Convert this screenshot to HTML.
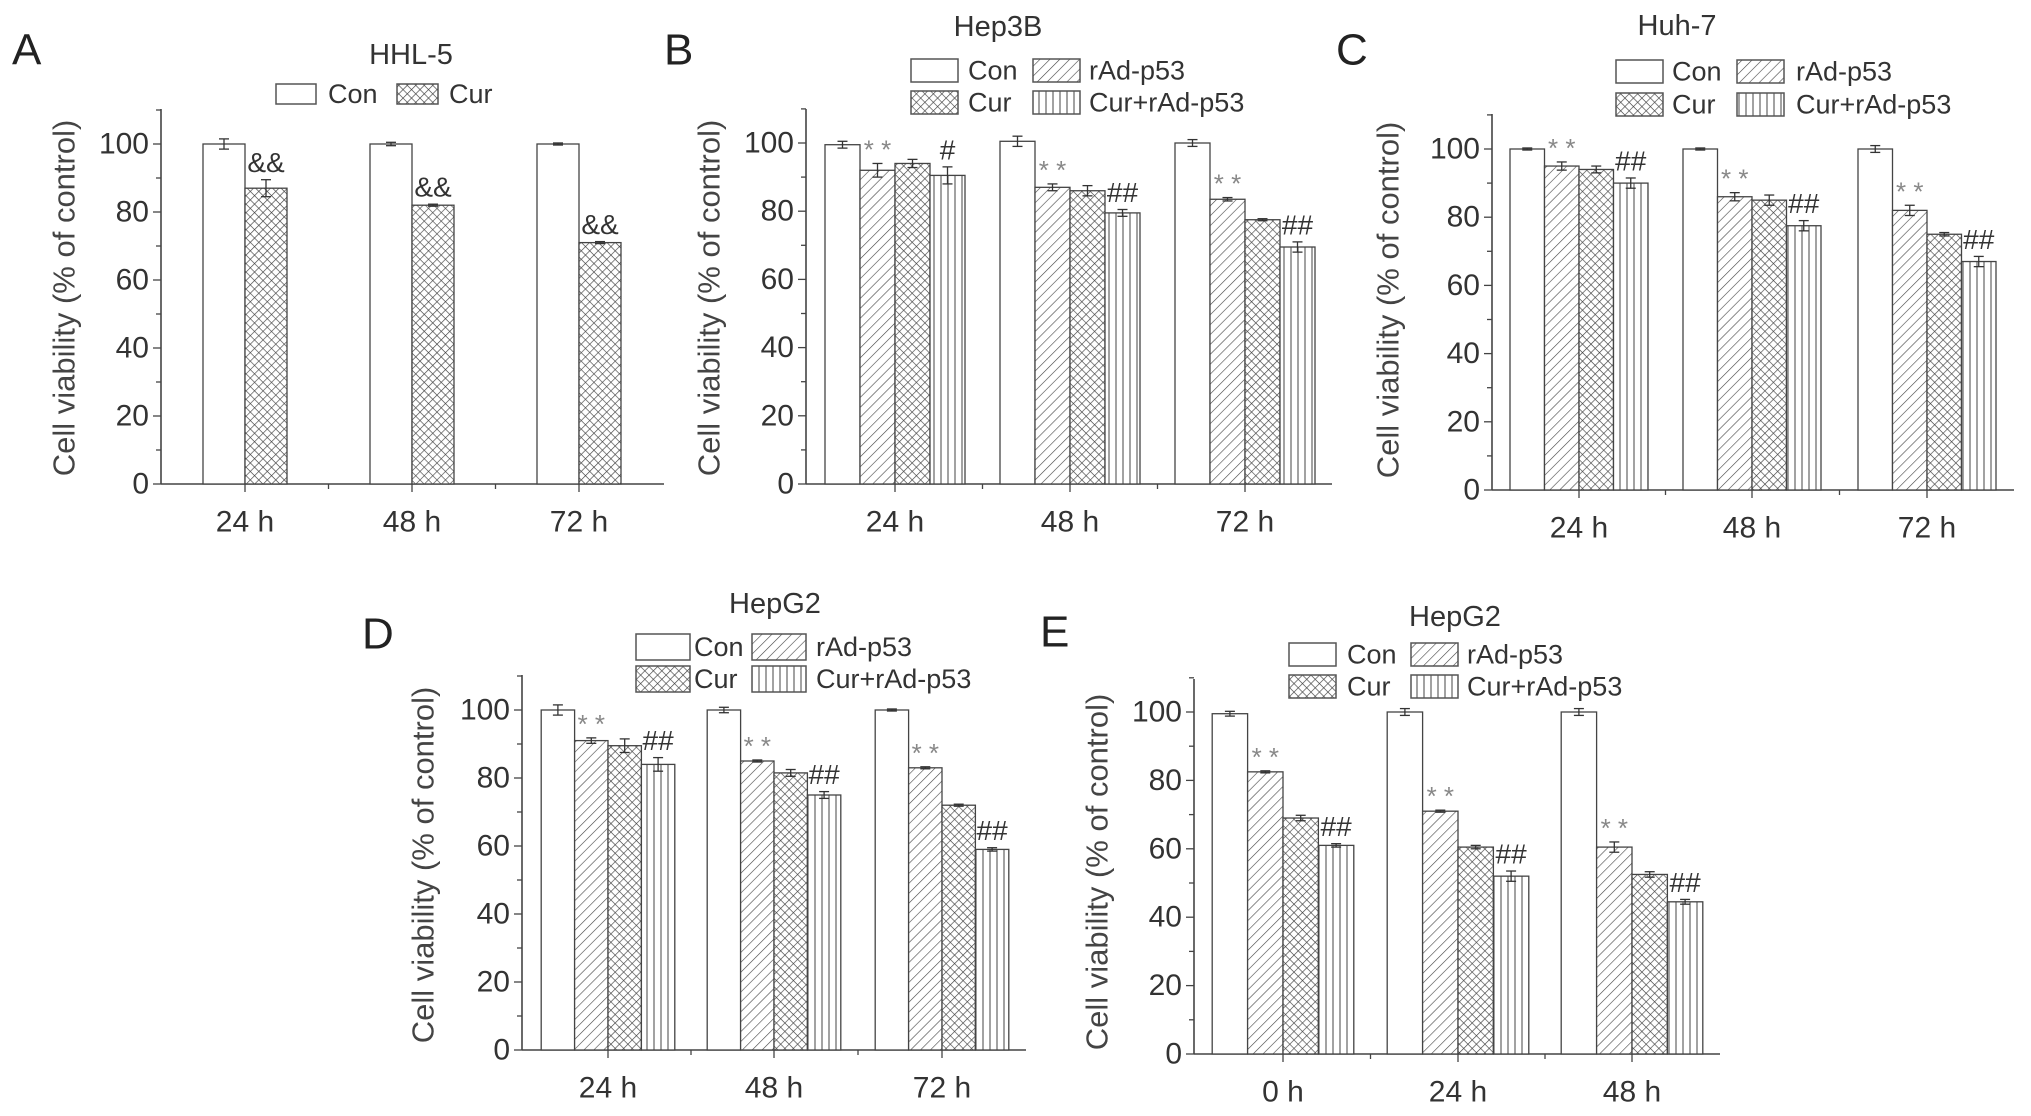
<!DOCTYPE html>
<html><head><meta charset="utf-8"><style>
body{margin:0;background:#fff}
svg{display:block;font-family:"Liberation Sans",sans-serif}
</style></head><body>
<svg id="fig" width="2031" height="1116" viewBox="0 0 2031 1116" xmlns="http://www.w3.org/2000/svg">
<defs>
<pattern id="pDiag" patternUnits="userSpaceOnUse" width="7" height="7" patternTransform="rotate(45)"><rect width="7" height="7" fill="#fff"/><line x1="0" y1="0" x2="0" y2="7" stroke="#444" stroke-width="1.2"/></pattern>
<pattern id="pCross" patternUnits="userSpaceOnUse" width="6" height="6" patternTransform="rotate(45)"><rect width="6" height="6" fill="#fff"/><line x1="0" y1="0" x2="0" y2="6" stroke="#444" stroke-width="1.3"/><line x1="0" y1="0" x2="6" y2="0" stroke="#444" stroke-width="1.3"/></pattern>
<pattern id="pVert" patternUnits="userSpaceOnUse" width="7" height="7"><rect width="7" height="7" fill="#fff"/><line x1="3" y1="0" x2="3" y2="7" stroke="#555" stroke-width="1.1"/></pattern>
</defs>
</svg>
<script>
// ---- data ----
const seriesNames = ["Con","rAd-p53","Cur","Cur+rAd-p53"];
const catsABCD = ["24 h","48 h","72 h"];
const catsE = ["0 h","24 h","48 h"];
const yTicks = [0,20,40,60,80,100];
const A_con = [100,100,100];   const A_conErr = [1.5,0.5,0.3];
const A_cur = [87,82,71];      const A_curErr = [2.5,0.3,0.3];
const A_ann = ["&&","&&","&&"];
const B_con = [99.5,100.5,100]; const B_rad = [92,87,83.5]; const B_cur = [94,86,77.5]; const B_comb = [90.5,79.5,69.5];
const B_err = [[1,1.5,1],[2,1,0.5],[1.2,1.5,0.3],[2.5,1,1.5]];
const B_combAnn = ["#","##","##"];
const C_con = [100,100,100]; const C_rad = [95,86,82]; const C_cur = [94,85,75]; const C_comb = [90,77.5,67];
const C_err = [[0.3,0.3,1],[1.2,1.2,1.5],[1,1.5,0.5],[1.5,1.5,1.5]];
const D_con = [100,100,100]; const D_rad = [91,85,83]; const D_cur = [89.5,81.5,72]; const D_comb = [84,75,59];
const D_err = [[1.5,0.8,0.3],[0.8,0.3,0.3],[2,1,0.3],[2,1,0.5]];
const E_con = [99.5,100,100]; const E_rad = [82.5,71,60.5]; const E_cur = [69,60.5,52.5]; const E_comb = [61,52,44.5];
const E_err = [[0.7,1,1],[0.3,0.3,1.5],[0.8,0.5,0.8],[0.5,1.5,0.7]];

const svg = document.getElementById('fig');
const NS = "http://www.w3.org/2000/svg";
function mk(tag, attrs, parent){const e=document.createElementNS(NS,tag);for(const k in attrs)e.setAttribute(k,attrs[k]);(parent||svg).appendChild(e);return e;}
function txt(s,x,y,size,fill,anchor,parent){const t=mk('text',{x:x,y:y,'font-size':size,fill:fill,'text-anchor':anchor||'middle','dominant-baseline':'central'},parent);t.textContent=s;return t;}
const fills = ["#fff","url(#pDiag)","url(#pCross)","url(#pVert)"];

function panel(p){
  const g = mk('g',{});
  
  
  const yS = v => p.y0 + (p.y100 - p.y0) * v / 100;
  const n = p.series.length;
  const ax = mk('line',{x1:p.ax,y1:p.top,x2:p.ax,y2:p.y0,stroke:'#444','stroke-width':1.6},g);
  
  
  const xa = mk('line',{x1:p.ax,y1:p.y0,x2:p.right,y2:p.y0,stroke:'#444','stroke-width':1.6},g);
  
  
  for(let v=0; v<=110; v+=10){
    const y=yS(v); const major = v%20===0;
    mk('line',{x1:p.ax-(major?8:5),y1:y,x2:p.ax,y2:y,stroke:'#444','stroke-width':1.3},g);
  }
  yTicks.forEach(v=>{const t=txt(String(v),p.ax-12,yS(v),30,'#333','end',g);
    
    });
  p.cats.forEach((c,i)=>{
    const cx = p.groups[i];
    mk('line',{x1:cx,y1:p.y0,x2:cx,y2:p.y0+8,stroke:'#444','stroke-width':1.3},g);
    if(i<p.cats.length-1){const mx=(p.groups[i]+p.groups[i+1])/2;mk('line',{x1:mx,y1:p.y0,x2:mx,y2:p.y0+5,stroke:'#444','stroke-width':1.3},g);}
    const lt=txt(c,cx,p.y0+38,30,'#333','middle',g);
    
    
    p.series.forEach((s,j)=>{
      const x = cx + (j - n/2)*p.bw;
      const v = s.vals[i], y=yS(v);
      const r = mk('rect',{x:x,y:y,width:p.bw,height:p.y0-y,fill:s.fill,stroke:'#444','stroke-width':1.3},g);
      
      
      const e = s.err[i], bx=x+p.bw/2;
      mk('line',{x1:bx,y1:yS(v+e),x2:bx,y2:yS(v-e),stroke:'#333','stroke-width':1.3},g);
      mk('line',{x1:bx-5,y1:yS(v+e),x2:bx+5,y2:yS(v+e),stroke:'#333','stroke-width':1.3},g);
      mk('line',{x1:bx-5,y1:yS(v-e),x2:bx+5,y2:yS(v-e),stroke:'#333','stroke-width':1.3},g);
      if(s.ann && s.ann[i]){
        const star = s.ann[i][0]==='*';
        const a=txt(star?'* *':s.ann[i],bx,yS(v+e)-(star?14:17),star?26:28,star?'#888':'#333','middle',g);
        
        
      }
    });
  });
  const yt = txt('Cell viability (% of control)',0,0,31,'#444','middle',g);
  yt.setAttribute('transform',`translate(${p.ytx},${p.yty}) rotate(-90)`);
  
  
  const tt=txt(p.title,p.tx,p.ty,29,'#333','middle',g);
  
  
  const lt=txt(p.id,p.lx,p.ly,44,'#222','start',g);
  
  
  p.legend.forEach(L=>{
    const s=p.series[L.s];
    const r=mk('rect',{x:L.x,y:L.y,width:L.w,height:L.h,fill:s.fill,stroke:'#555','stroke-width':1.5},g);
    
    
    const t=txt(seriesNames[s.idx],L.tx,L.y+L.h/2,27,'#333','start',g);
    
    
  });
}
function four(con,rad,cur,comb,err,combAnn){
  return [
    {key:'con',idx:0,vals:con,err:err[0],fill:fills[0]},
    {key:'rad',idx:1,vals:rad,err:err[1],fill:fills[1],ann:["**","**","**"]},
    {key:'cur',idx:2,vals:cur,err:err[2],fill:fills[2]},
    {key:'comb',idx:3,vals:comb,err:err[3],fill:fills[3],ann:combAnn}];
}
function leg4(b1,t1,b2,t2,r1,r2,w,h){return [{s:0,x:b1,y:r1,w:w,h:h,tx:t1},{s:1,x:b2,y:r1,w:w,h:h,tx:t2},{s:2,x:b1,y:r2,w:w,h:h,tx:t1},{s:3,x:b2,y:r2,w:w,h:h,tx:t2}];}

panel({id:'A',title:'HHL-5',tx:411,ty:55,lx:12,ly:50,ax:161,y0:484,y100:144,top:109,right:664,groups:[245,412,579],bw:42,cats:catsABCD,ytx:64,yty:298,
  series:[{key:'con',idx:0,vals:A_con,err:A_conErr,fill:fills[0]},{key:'cur',idx:2,vals:A_cur,err:A_curErr,fill:fills[2],ann:A_ann}],
  legend:[{s:0,x:276,y:84,w:40,h:20,tx:328},{s:1,x:397,y:84,w:41,h:20,tx:449}]});
panel({id:'B',title:'Hep3B',tx:998,ty:27,lx:664,ly:50,ax:806,y0:484,y100:143,top:109,right:1332,groups:[895,1070,1245],bw:35,cats:catsABCD,ytx:709,yty:298,
  series:four(B_con,B_rad,B_cur,B_comb,B_err,B_combAnn),legend:leg4(911,968,1033,1089,59,91,47,23)});
panel({id:'C',title:'Huh-7',tx:1677,ty:26,lx:1336,ly:50,ax:1492,y0:490,y100:149,top:114,right:2014,groups:[1579,1752,1927],bw:34.5,cats:catsABCD,ytx:1388,yty:300,
  series:four(C_con,C_rad,C_cur,C_comb,C_err,["##","##","##"]),legend:leg4(1616,1672,1737,1796,60,93,47,23)});
panel({id:'D',title:'HepG2',tx:775,ty:604,lx:362,ly:634,ax:522,y0:1050,y100:710,top:675,right:1026,groups:[608,774,942],bw:33.4,cats:catsABCD,ytx:423,yty:865,
  series:four(D_con,D_rad,D_cur,D_comb,D_err,["##","##","##"]),legend:leg4(636,694,752,816,634,666,54,26)});
panel({id:'E',title:'HepG2',tx:1455,ty:617,lx:1040,ly:632,ax:1194,y0:1054,y100:712,top:679,right:1720,groups:[1283,1458,1632],bw:35.4,cats:catsE,ytx:1097,yty:872,
  series:four(E_con,E_rad,E_cur,E_comb,E_err,["##","##","##"]),legend:leg4(1289,1347,1411,1467,643,675,47,23)});
</script>
</body></html>
